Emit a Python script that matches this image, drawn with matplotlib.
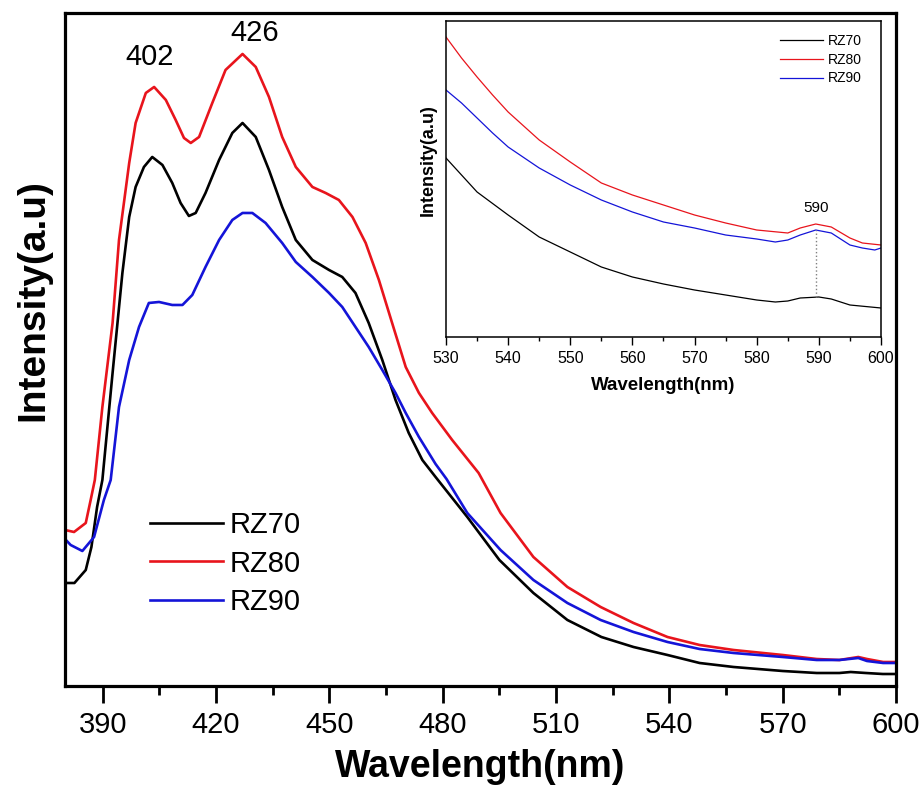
import numpy as np
import matplotlib
matplotlib.use('Agg')
import matplotlib.pyplot as plt
from matplotlib.ticker import MultipleLocator

plt.rcParams['font.family'] = ['Liberation Sans', 'DejaVu Sans']

# Main spectra (arbitrary intensity units)
wl_rz70 = [380, 382.5, 385.5, 387, 388.5, 389.9, 392.6, 395.2, 397, 398.7, 400.9, 403.1,
           405.8, 408.4, 410.6, 412.8, 414.6, 417.2, 420.8, 424.3, 427, 430.5, 434,
           437.5, 441.1, 445.5, 449.9, 453.4, 456.9, 460.4, 464, 467.5, 471, 474.6,
           478.1, 486.5, 495, 504, 513, 522, 530.5, 539.5, 548, 557, 570, 579, 585, 588,
           592, 596.5, 600]
rz70 = [103, 103, 116, 139, 179, 206, 313, 413, 469, 499, 519, 529, 521, 503, 483, 470,
        473, 493, 526, 553, 563, 549, 516, 479, 446, 426, 416, 409, 393, 363, 326, 286,
        253, 226, 209, 169, 126, 93, 66, 49, 39, 31, 23, 19, 15, 13, 13, 14, 13, 12, 12]

wl_rz80 = [380, 382.4, 385.5, 386.8, 387.9, 389.9, 392.6, 394.3, 397, 398.7, 401.4,
           403.6, 406.7, 409.3, 411.5, 413.3, 415.5, 419, 422.5, 427, 430.5, 434, 437.5,
           441.1, 445.5, 449, 452.5, 456.1, 459.6, 463.1, 466.6, 470.2, 473.7, 477.2,
           482.5, 489.5, 495.3, 504, 513, 521.8, 530.5, 539.5, 548, 557, 570, 579, 585,
           590, 592.3, 596.6, 600]
rz80 = [156, 154, 163, 186, 206, 279, 363, 446, 523, 563, 593, 599, 586, 566, 548, 543,
        549, 583, 616, 632, 619, 589, 549, 519, 499, 493, 486, 469, 443, 406, 363, 319,
        293, 273, 246, 213, 173, 129, 99, 79, 63, 49, 41, 36, 31, 27, 26, 29, 27, 24, 24]

wl_rz90 = [380, 381.5, 384.6, 387.7, 390.3, 392.1, 394.3, 397, 399.6, 402.2, 404.9,
           408.4, 411.1, 413.7, 417.2, 420.8, 424.3, 427, 429.6, 433.1, 437.5, 441.1,
           445.5, 449.9, 453.4, 456.9, 460.4, 464, 467.5, 470.2, 473.7, 478.1, 481,
           486.5, 495.3, 504, 513, 521.8, 530.5, 539.5, 548, 557, 570, 579, 585, 590,
           592.3, 596.6, 600]
rz90 = [147, 141, 135, 149, 186, 206, 279, 326, 359, 383, 384, 381, 381, 391, 419, 446,
        466, 473, 473, 463, 443, 424, 409, 393, 379, 359, 339, 316, 293, 273, 249, 222,
        207, 173, 136, 106, 83, 66, 54, 44, 37, 33, 29, 26, 26, 28, 25, 23, 23]

# Inset spectra, 530-600 nm
in_wl_rz70 = [530, 535, 540, 545, 550, 555, 560, 565, 570, 575, 580, 583, 585, 587, 590,
              592, 595, 600]
in_rz70 = [179, 145, 122, 100, 85, 70, 60, 53, 47, 42, 37, 35, 36, 39, 40, 38, 32, 29]

in_wl_rz80 = [530, 532.5, 535, 537.5, 540, 545, 550, 555, 560, 565, 570, 575, 580, 585,
              587, 589.5, 592, 595, 597, 600]
in_rz80 = [300, 279, 260, 242, 225, 197, 175, 154, 142, 132, 122, 114, 107, 104, 109,
           113, 110, 99, 94, 92]

in_wl_rz90 = [530, 532.5, 535, 537.5, 540, 545, 550, 555, 560, 565, 570, 575, 580, 583,
              585, 587, 589.5, 592, 595, 597, 599, 600]
in_rz90 = [247, 234, 219, 204, 190, 169, 152, 137, 125, 115, 109, 102, 98, 95, 97, 102,
           107, 104, 92, 89, 87, 89]

labels = ['RZ70', 'RZ80', 'RZ90']
colors = ['black', '#e8141c', '#1414d8']
peak_590 = 589.5

fig = plt.figure(figsize=(9.23, 8), dpi=100)
ax = fig.add_axes([0.0704, 0.1425, 0.9004, 0.8413])

for x, y, lab, c in zip([wl_rz70, wl_rz80, wl_rz90], [rz70, rz80, rz90], labels, colors):
    ax.plot(x, y, color=c, lw=1.9, label=lab)

ax.set_xlim(380, 600)
ax.set_ylim(0, 673)
ax.set_xticks(range(390, 601, 30))
ax.xaxis.set_minor_locator(MultipleLocator(15))
ax.set_yticks([])
ax.tick_params(axis='x', which='major', direction='out', length=12, width=2,
               labelsize=21, pad=6)
ax.tick_params(axis='x', which='minor', direction='out', length=6.5, width=2)
for s in ax.spines.values():
    s.set_linewidth(2.3)
ax.set_xlabel('Wavelength(nm)', fontsize=27, fontweight='bold', labelpad=7)
ax.set_ylabel('Intensity(a.u)', fontsize=28, fontweight='bold')
ax.yaxis.set_label_coords(-0.016, 0.574)

ax.text(402.4, 629, '402', fontsize=21, ha='center', va='center')
ax.text(430.2, 653, '426', fontsize=21, ha='center', va='center')

ax.legend(loc='upper left', bbox_to_anchor=(0.102, 0.260), frameon=False,
          fontsize=21, handlelength=2.5, handletextpad=0.25, labelspacing=0.36,
          borderpad=0, borderaxespad=0)

# inset
axi = fig.add_axes([0.4832, 0.57875, 0.4713, 0.395])
for x, y, lab, c in zip([in_wl_rz70, in_wl_rz80, in_wl_rz90],
                        [in_rz70, in_rz80, in_rz90], labels, colors):
    axi.plot(x, y, color=c, lw=0.9, label=lab)
axi.set_xlim(530, 600)
axi.set_ylim(0, 316)
axi.xaxis.set_major_locator(MultipleLocator(10))
axi.xaxis.set_minor_locator(MultipleLocator(5))
axi.set_yticks([])
axi.tick_params(axis='x', which='major', direction='out', length=6, width=1,
                labelsize=11.5, pad=4)
axi.tick_params(axis='x', which='minor', direction='out', length=3, width=1)
for s in axi.spines.values():
    s.set_linewidth(1.1)
axi.set_xlabel('Wavelength(nm)', fontsize=13.5, fontweight='bold', labelpad=8)
axi.set_ylabel('Intensity(a.u)', fontsize=13, fontweight='bold')
axi.yaxis.set_label_coords(-0.021, 0.56)

y_low = np.interp(peak_590, in_wl_rz70, in_rz70)
y_high = np.interp(peak_590, in_wl_rz90, in_rz90)
axi.vlines(peak_590, y_low, y_high, colors='gray', linestyles=':', lw=1)
axi.text(peak_590, 129, '590', fontsize=11, ha='center', va='center')

axi.legend(loc='upper left', bbox_to_anchor=(0.768, 0.959), frameon=False,
           fontsize=10, handlelength=3.1, handletextpad=0.35, labelspacing=0.34,
           borderpad=0, borderaxespad=0)

fig.savefig('out.png', dpi=100)
